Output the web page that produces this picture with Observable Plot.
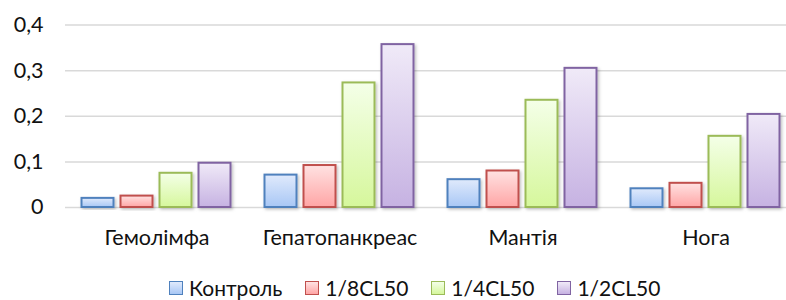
<!DOCTYPE html>
<html><head><meta charset="utf-8">
<script src="https://cdn.jsdelivr.net/npm/d3@7"></script>
<script src="https://cdn.jsdelivr.net/npm/@observablehq/plot@0.6"></script>
<style>
body{margin:0;overflow:hidden;background:#fff;font-family:Lato,"Noto Sans",sans-serif;}
#chart{position:relative;width:786px;height:300px;overflow:hidden;}
#legend{position:absolute;left:169px;top:277px;display:flex;justify-content:flex-start;gap:23px;font-size:21px;color:#111;line-height:21px;}
.item{display:flex;align-items:center;gap:6px;}
.sw{width:12px;height:12px;border:1.5px solid;}
</style></head><body><div id="chart"></div>
<script>
const categories = ["Гемолімфа", "Гепатопанкреас", "Мантія", "Нога"];
const series = ["Контроль", "1/8CL50", "1/4CL50", "1/2CL50"];
const control = [0.020, 0.071, 0.061, 0.041];
const cl8 = [0.025, 0.092, 0.080, 0.053];
const cl4 = [0.075, 0.273, 0.235, 0.156];
const cl2 = [0.097, 0.357, 0.305, 0.204];
const yTicks = [0, 0.1, 0.2, 0.3, 0.4];
const fillTop = ["#e0eafc", "#ffe2e2", "#f4ffe8", "#f0eaf8"];
const fillBottom = ["#a8c7f5", "#ffa5a5", "#d6f79c", "#c6b2e2"];
const strokes = ["#4f81bd", "#c0504d", "#9bbb59", "#8064a2"];

const values = [control, cl8, cl4, cl2];
const table = [];
categories.forEach((c, i) => series.forEach((s, j) => table.push({category: c, series: s, si: j, value: values[j][i]})));

const fmt = d => d === 0 ? "0" : d.toFixed(1).replace(".", ",");

const plot = Plot.plot({
  width: 786, height: 262,
  marginLeft: 64.5, marginRight: 0, marginTop: 24.5, marginBottom: 55,
  style: {fontFamily: "Lato, 'Noto Sans', sans-serif", fontSize: "21.5px", color: "#111", overflow: "hidden", background: "#fff"},
  fx: {domain: categories, range: [64.5, 796.5], padding: 0, label: null},
  x: {domain: series, paddingInner: 0.175, paddingOuter: 0.39, axis: null},
  y: {domain: [0, 0.4], axis: null},
  color: {type: "identity"},
  marks: [
    Plot.gridY(yTicks, {stroke: "#d9d9d9", strokeOpacity: 1, strokeWidth: 1.5}),
    Plot.axisY(yTicks, {tickSize: 0, tickPadding: 22, tickFormat: fmt, fontSize: 21.5, label: null}),
    Plot.axisFx({anchor: "bottom", tickSize: 0, tickPadding: 22.7, fontSize: 21.5, label: null}),
    Plot.barY(table, {fx: "category", x: "series", y: "value",
      fill: d => `url(#grad${d.si})`, stroke: d => strokes[d.si], strokeWidth: 2})
  ]
});

const svg = d3.select(plot);
const defs = svg.insert("defs", ":first-child");
const f = defs.append("filter").attr("id", "shadow").attr("x", "-20%").attr("y", "-20%").attr("width", "150%").attr("height", "150%");
f.append("feDropShadow").attr("dx", 1.5).attr("dy", 1.5).attr("stdDeviation", 1.5).attr("flood-color", "#000").attr("flood-opacity", 0.25);
series.forEach((s, j) => {
  const g = defs.append("linearGradient").attr("id", `grad${j}`).attr("x1", 0).attr("y1", 0).attr("x2", 0).attr("y2", 1);
  g.append("stop").attr("offset", "0%").attr("stop-color", fillTop[j]);
  g.append("stop").attr("offset", "100%").attr("stop-color", fillBottom[j]);
});
svg.selectAll("g[aria-label='bar'] rect").attr("filter", "url(#shadow)");

const chart = document.getElementById("chart");
chart.appendChild(plot);
const legend = d3.select(chart).append("div").attr("id", "legend");
series.forEach((s, j) => {
  const it = legend.append("div").attr("class", "item");
  it.append("div").attr("class", "sw").style("border-color", strokes[j])
    .style("background", `linear-gradient(${fillTop[j]}, ${fillBottom[j]})`);
  it.append("span").text(s);
});
</script></body></html>
